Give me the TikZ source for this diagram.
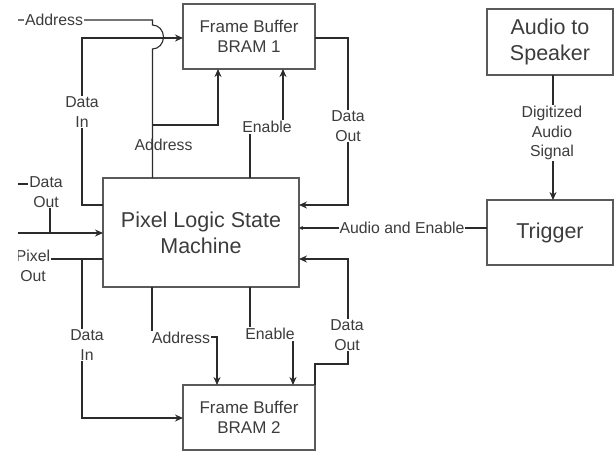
\documentclass[tikz,border=0pt]{standalone}
\usepackage{fontspec}
\setmainfont{Liberation Sans}
\usetikzlibrary{arrows.meta}
\definecolor{wirec}{HTML}{2B2B2B}
\definecolor{boxc}{HTML}{5A5A5A}
\definecolor{txtc}{HTML}{3C3C3C}
\begin{document}
\begin{tikzpicture}[x=1pt,y=-1pt,
  box/.style={draw=boxc, line width=1.1pt, inner sep=0pt, outer sep=0pt, align=center, text=txtc},
  fbfont/.style={font=\fontsize{17}{20.5}\selectfont},
  bigfont/.style={font=\fontsize{21.5}{26}\selectfont},
  lbl/.style={fill=white, inner sep=1pt, align=center, text=txtc, font=\fontsize{15.8}{19.5}\selectfont},
  plainlbl/.style={lbl, fill=none},
  wire/.style={draw=wirec, line width=1.1pt},
  arr/.style={wire, -{Stealth[length=8pt,width=7pt]}},
  smallarr/.style={wire, -{Stealth[length=4pt,width=4pt]}},
]
\useasboundingbox (0,0) rectangle (614,451);
\clip (18,0) rectangle (614,451);

% blocks
\node[box, fbfont, minimum width=132pt, minimum height=65pt] (fb1) at (249,36.5) {Frame Buffer\\BRAM 1};
\node[box, bigfont, minimum width=196pt, minimum height=109pt] (plsm) at (201,232.5) {Pixel Logic State\\Machine};
\node[box, fbfont, minimum width=132pt, minimum height=65pt] (fb2) at (249,417.5) {Frame Buffer\\BRAM 2};
\node[box, bigfont, minimum width=126pt, minimum height=66pt] (aud) at (550,42) {Audio to\\Speaker};
\node[box, bigfont, minimum width=126pt, minimum height=65pt] (trig) at (550,232.5) {Trigger};

% free ends leaving to the left
\coordinate (addrL) at (0,20);
\coordinate (doL) at (0,184);
\coordinate (doJ) at (50,233);
\coordinate (doL2) at (0,233);
\coordinate (poL) at (0,259);
\coordinate (abr) at (152.5,125);

% address out of the state machine, hopping over the data-in line
\draw[wire] ([xshift=49.5pt]plsm.north west) -- (152.5,49)
  arc[start angle=-90, end angle=90, x radius=11pt, y radius=12pt]
  -- (152.5,20) -- (addrL);
\node[lbl] at (54,20) {Address};
\draw[arr] (abr) -| ([xshift=35pt]fb1.south west);
\node[plainlbl] at (163.5,145) {Address};

% data in to BRAM 1
\draw[arr] ([yshift=-27pt]plsm.north west) -- ++(-21,0) |- ([yshift=-34pt]fb1.north west);
\node[lbl] at (82,112) {Data\\In};

% enable to BRAM 1
\draw[arr] ([xshift=147pt]plsm.north west) -- ++(0,-51) -| ([xshift=100pt]fb1.south west);
\node[lbl] at (267,127) {Enable};

% data out of BRAM 1
\draw[arr] ([yshift=-34pt]fb1.north east) -- ++(33,0) |- ([yshift=-27pt]plsm.north east);
\node[lbl] at (348,126) {Data\\Out};

% data out / pixel out on the left
\draw[wire] (doL) -| (doJ);
\draw[arr] (doL2) -- ([yshift=-55pt]plsm.north west);
\node[lbl] at (46,192) {Data\\Out};
\draw[wire] ([yshift=-81pt]plsm.north west) -- (poL);
\node[lbl] at (33,266) {Pixel\\Out};

% data in to BRAM 2
\draw[arr] ([yshift=-81pt]plsm.north west) -- ++(-21,0) |- ([yshift=-33pt]fb2.north west);
\node[lbl] at (87,345) {Data\\In};

% address to BRAM 2
\draw[arr] ([xshift=49pt]plsm.south west) -- ++(0,50) -| ([xshift=34pt]fb2.north west);
\node[lbl] at (181,338) {Address};

% enable to BRAM 2
\draw[arr] ([xshift=147pt]plsm.south west) -- ++(0,48) -| ([xshift=110pt]fb2.north west);
\node[lbl] at (270,334) {Enable};

% data out of BRAM 2
\draw[arr] (fb2.north east) -- ++(0,-21) -- ++(33,0) |- ([yshift=-81pt]plsm.north east);
\node[lbl] at (347,335) {Data\\Out};

% audio path
\draw[smallarr] ([yshift=4.5pt]trig.west) -- ([yshift=4.5pt]plsm.east);
\node[lbl] at (402,228) {Audio and Enable};
\draw[arr] ([xshift=3pt]aud.south) -- ([xshift=3pt]trig.north);
\node[lbl] at (552,133) {Digitized\\Audio\\Signal};
\end{tikzpicture}
\end{document}
